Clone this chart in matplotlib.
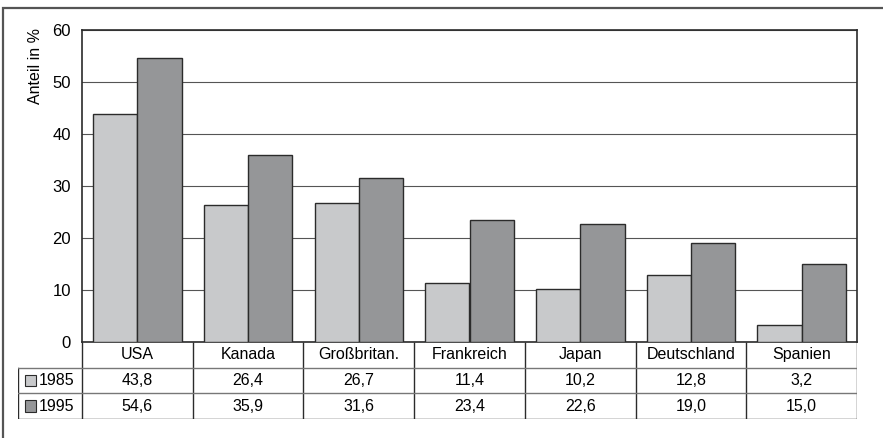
import numpy as np
import matplotlib
matplotlib.use('Agg')
import matplotlib.pyplot as plt
from matplotlib.patches import Rectangle

plt.rcParams['font.family'] = ['Liberation Sans', 'DejaVu Sans']

# Anteil in % je Land
laender = ['USA', 'Kanada', 'Großbritan.', 'Frankreich', 'Japan', 'Deutschland', 'Spanien']
jahre = ['1985', '1995']
werte_1985 = [43.8, 26.4, 26.7, 11.4, 10.2, 12.8, 3.2]
werte_1995 = [54.6, 35.9, 31.6, 23.4, 22.6, 19.0, 15.0]
y_ticks = [0, 10, 20, 30, 40, 50, 60]

HELL = '#c8c9cb'
DUNKEL = '#959698'
KANTE = '#2b2b2b'
FS = 11.5

W, H = 883, 438
fig = plt.figure(figsize=(W / 100, H / 100), dpi=100)


def fx(px):
    return px / W


def fy(py):
    return 1 - py / H


# outer frame (right/bottom edges lie outside the canvas)
fig.patches.append(Rectangle((fx(3), fy(450)), fx(900), 442 / H, transform=fig.transFigure,
                             fill=False, edgecolor='#555555', lw=1.6))

left, right, top, bottom = 82, 857, 30, 342
ax = fig.add_axes([fx(left), fy(bottom), fx(right - left), (bottom - top) / H])

x = np.arange(len(laender))
breite = 0.4
ax.bar(x - breite / 2, werte_1985, breite, color=HELL, edgecolor=KANTE, lw=1, zorder=3)
ax.bar(x + breite / 2, werte_1995, breite, color=DUNKEL, edgecolor=KANTE, lw=1, zorder=3)

ax.set_xlim(-0.5, len(laender) - 0.5)
ax.set_ylim(0, 60)
ax.set_yticks(y_ticks)
ax.set_yticklabels([str(t) for t in y_ticks], fontsize=12)
ax.set_xticks([])
ax.tick_params(axis='y', length=0, pad=8)
ax.yaxis.grid(True, color='#555555', lw=0.8)
ax.set_axisbelow(True)
for s in ax.spines.values():
    s.set_color(KANTE)
    s.set_linewidth(1.2)

fig.text(fx(35), fy(66), 'Anteil in %', rotation=90, ha='center', va='center', fontsize=11.5)

# data table below the plot
t_left, t_bottom = 18, 419
cat_w = (right - left) / len(laender)
links_kat = -0.5 - (left - t_left) / cat_w
tab = fig.add_axes([fx(t_left), fy(t_bottom), fx(right - t_left), (t_bottom - bottom) / H])
tab.set_xlim(links_kat, len(laender) - 0.5)
tab.set_ylim(3, 0)
tab.axis('off')

lw_t = 1.0
# vertical lines
for i in range(len(laender) + 1):
    tab.plot([i - 0.5, i - 0.5], [0, 3], color=KANTE, lw=lw_t, solid_capstyle='butt')
tab.plot([links_kat, links_kat], [1, 3], color=KANTE, lw=lw_t)
# horizontal lines
tab.plot([links_kat, len(laender) - 0.5], [1, 1], color='#777777', lw=lw_t)
tab.plot([links_kat, len(laender) - 0.5], [2, 2], color='#777777', lw=lw_t)
tab.plot([links_kat, len(laender) - 0.5], [3, 3], color=KANTE, lw=lw_t)

for i, name in enumerate(laender):
    tab.text(i, 0.5, name, ha='center', va='center', fontsize=FS)
    tab.text(i, 1.5, f'{werte_1985[i]:.1f}'.replace('.', ','), ha='center', va='center', fontsize=FS)
    tab.text(i, 2.5, f'{werte_1995[i]:.1f}'.replace('.', ','), ha='center', va='center', fontsize=FS)

for r, (jahr, farbe) in enumerate(zip(jahre, [HELL, DUNKEL])):
    tab.add_patch(Rectangle((links_kat + 0.06, r + 1.27), 0.1, 0.46, facecolor=farbe,
                            edgecolor=KANTE, lw=0.8))
    tab.text(links_kat + 0.19, r + 1.5, jahr, ha='left', va='center', fontsize=FS)

fig.savefig('out.png', dpi=100)
